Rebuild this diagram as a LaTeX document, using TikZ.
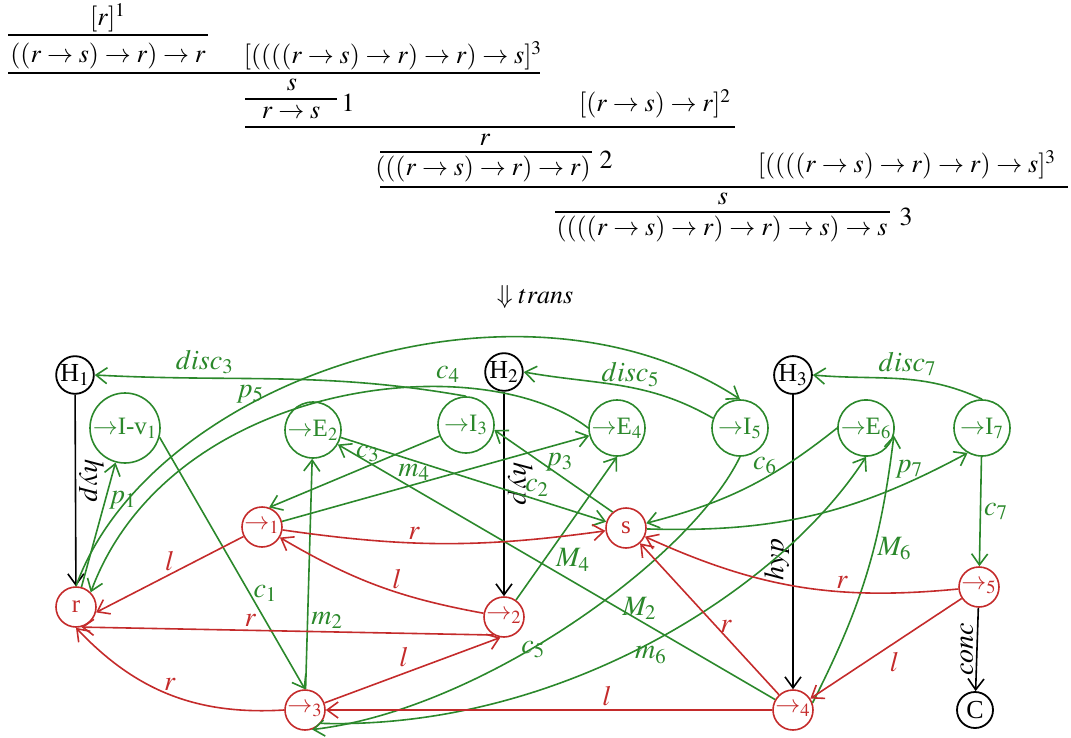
\documentclass[tikz,border=0pt]{standalone}
\usepackage{mathptmx}
\usepackage{fontspec}
\setmainfont{Liberation Serif}
\usepackage{tikz}
\usetikzlibrary{arrows.meta, calc}
\definecolor{pnGreen}{HTML}{2B882B}
\definecolor{pnRed}{HTML}{C42B2B}
\tikzset{
  hnode/.style={draw, circle, line width=0.9pt, minimum size=18pt, inner sep=0.3pt,
    font=\fontsize{13}{15}\selectfont},
  inode/.style={hnode, line width=0.8pt, draw=pnGreen, text=pnGreen, minimum size=28pt,
    font=\fontsize{12.5}{14}\selectfont},
  rnode/.style={hnode, line width=0.8pt, draw=pnRed, text=pnRed, minimum size=20pt,
    font=\fontsize{12.5}{14}\selectfont},
  blk/.style={-{Straight Barb[length=5.5pt,width=8pt]}, line width=0.8pt, black},
  grn/.style={blk, pnGreen},
  redge/.style={blk, pnRed},
  lab/.style={font=\fontsize{14}{16}\selectfont, inner sep=1.5pt},
  pf/.style={font=\fontsize{13}{15}\selectfont, inner sep=0pt},
  bar/.style={line width=0.6pt}
}

\begin{document}
\begin{tikzpicture}[x=0.5pt, y=-0.5pt]
  \useasboundingbox (0,0) rectangle (1071,738);
  % proof
  \node[pf] (pf1) at (108,18) {$[r]^1$};
  \draw[bar] (8,35) -- (208,35);
  \node[pf] (pf2) at (108,56) {$((r\to s)\to r)\to r$};
  \node[pf] (pf3) at (393,56) {$[((((r\to s)\to r)\to r)\to s]^3$};
  \draw[bar] (8,73) -- (540,73);
  \node[pf] (pf4) at (292,85) {$s$};
  \draw[bar] (245,99) -- (337,99);
  \node[pf] (pf5) at (291,113) {$r\to s$};
  \node[pf] (pf6) at (348,103) {$1$};
  \node[pf] (pf7) at (655,104) {$[(r\to s)\to r]^2$};
  \draw[bar] (245,127) -- (735,127);
  \node[pf] (pf8) at (485,140) {$r$};
  \draw[bar] (380,152) -- (592,152);
  \node[pf] (pf9) at (483,169) {$(((r\to s)\to r)\to r)$};
  \node[pf] (pf10) at (606,160) {$2$};
  \node[pf] (pf11) at (907,165) {$[((((r\to s)\to r)\to r)\to s]^3$};
  \draw[bar] (380,187) -- (1068,187);
  \node[pf] (pf12) at (723,199) {$s$};
  \draw[bar] (555,212) -- (890,212);
  \node[pf] (pf13) at (722,229) {$((((r\to s)\to r)\to r)\to s)\to s$};
  \node[pf] (pf14) at (906,217) {$3$};
  \node[pf] (trans) at (535,297) {$\Downarrow trans$};

  % net
  \node[hnode] (H1) at (75,375) {H$_1$};
  \node[hnode] (H2) at (504,372) {H$_2$};
  \node[hnode] (H3) at (793,375) {H$_3$};
  \node[hnode] (C) at (975,710) {C};
  \node[inode, minimum size=35pt] (Iv1) at (125,428) {$\to$I-v$_1$};
  \node[inode] (E2) at (313,430) {$\to$E$_2$};
  \node[inode] (I3) at (466,425) {$\to$I$_3$};
  \node[inode] (E4) at (617,428) {$\to$E$_4$};
  \node[inode] (I5) at (740,428) {$\to$I$_5$};
  \node[inode] (E6) at (866,428) {$\to$E$_6$};
  \node[inode] (I7) at (982,428) {$\to$I$_7$};
  \node[rnode] (r) at (76,607) {r};
  \node[rnode] (s) at (626,528) {s};
  \node[rnode] (n1) at (262,527) {$\to_1$};
  \node[rnode] (n2) at (504,617) {$\to_2$};
  \node[rnode] (n3) at (305,710) {$\to_3$};
  \node[rnode] (n4) at (793,710) {$\to_4$};
  \node[rnode] (n5) at (979,587) {$\to_5$};

  \draw[blk] (H1) -- (r) node[pos=0.45, lab, anchor=south, rotate=-90] {$hyp$};
  \draw[blk] (H2) -- (n2) node[pos=0.45, lab, anchor=south, rotate=-90] {$hyp$};
  \draw[blk] (H3) -- (n4) node[pos=0.56, lab, anchor=south, rotate=90] {$hyp$};
  \draw[blk] (n5) -- (C) node[midway, lab, anchor=south, rotate=90] {$conc$};

  \draw[grn] (r) -- (Iv1) node[pos=0.7, lab, right] {$p_1$};
  \draw[grn] (Iv1.-15) -- (n3.north) node[pos=0.62, lab, right] {$c_1$};
  \draw[grn] (n3) -- (E2) node[pos=0.3, lab, right] {$m_2$};
  \draw[grn] (E2.-15) -- (s) node[pos=0.74, lab, above] {$c_2$};
  \draw[grn] (n4) -- (E2) node[pos=0.31, lab, above, inner sep=0pt] {$M_2$};
  \draw[grn] (I3) -- (n1.70) node[pos=0.42, lab, above] {$c_3$};
  \draw[grn] (n1) -- (E4) node[pos=0.43, lab, above] {$m_4$};
  \draw[grn] (n2) -- (E4.south) node[pos=0.28, lab, right=4pt] {$M_4$};
  \draw[grn] (E4.west) .. controls (480,345) and (170,380) .. (r.north east)
    node[pos=0.3, lab, above] {$c_4$};
  \draw[grn] (r.north) .. controls (150,380) and (520,255) .. (I5.north)
    node[pos=0.36, lab, above, inner sep=0pt] {$p_5$};
  \draw[grn] (I3.north) to[out=170, in=-3] node[pos=0.72, lab, above] {$disc_3$} (H1.east);
  \draw[grn] (I5.160) to[out=150, in=-10] node[pos=0.45, lab, above, inner sep=0pt] {$disc_5$} (H2.east);
  \draw[grn] (I7.north) to[out=155, in=-5] node[pos=0.45, lab, above] {$disc_7$} (H3.east);
  \draw[grn] (I5.south) .. controls (690,560) and (480,710) .. (n3.-70)
    node[pos=0.55, lab, below left, inner sep=0pt] {$c_5$};
  \draw[grn] (n3.-40) .. controls (560,730) and (780,590) .. (E6.south)
    node[pos=0.5, lab, below] {$m_6$};
  \draw[grn] (n4.20) to[bend right=10] node[pos=0.6, lab, right] {$M_6$} (E6.-15);
  \draw[grn] (E6.west) to[bend left=12] node[pos=0.4, lab, above] {$c_6$} (s);
  \draw[grn] (s) to[bend right=15] node[pos=0.82, lab, above] {$p_7$} (I7.-120);
  \draw[grn] (I7) -- (n5) node[midway, lab, right] {$c_7$};
  \draw[grn] (s.130) -- (I3.-10) node[pos=0.45, lab, above] {$p_3$};

  \draw[redge] (n1) -- (r.-15) node[midway, lab, above] {$l$};
  \draw[redge] (n1) to[bend right=8] node[pos=0.4, lab, above] {$r$} (s);
  \draw[redge] (n2) to[bend left=10] node[pos=0.4, lab, above] {$l$} (n1);
  \draw[redge] (n2.-120) -- (r.-75) node[pos=0.59, lab, above] {$r$};
  \draw[redge] (n3.west) to[bend left=25] node[pos=0.5, lab, above] {$r$} (r.south);
  \draw[redge] (n3.20) -- (n2.-100) node[midway, lab, above left] {$l$};
  \draw[redge] (n4) -- (n3) node[pos=0.37, lab, above] {$l$};
  \draw[redge] (n4) -- (s) node[pos=0.45, lab, right] {$r$};
  \draw[redge] (n5) to[bend left=15] node[pos=0.35, lab, above] {$r$} (s);
  \draw[redge] (n5) -- (n4) node[midway, lab, below right] {$l$};
\end{tikzpicture}
\end{document}
